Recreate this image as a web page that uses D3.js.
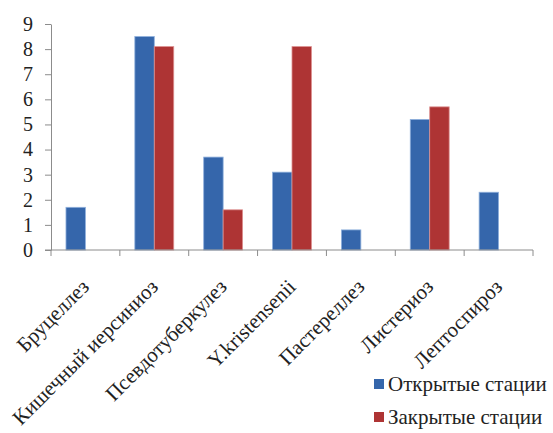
<!DOCTYPE html>
<html>
<head>
<meta charset="utf-8">
<script src="https://cdn.jsdelivr.net/npm/d3@7"></script>
</head>
<body style="margin:0">
<script>
const categories = ['Бруцеллез', 'Кишечный иерсиниоз', 'Псевдотуберкулез', 'Y.kristensenii',
  'Пастереллез', 'Листериоз', 'Лептоспироз'];
const seriesNames = ['Открытые стации', 'Закрытые стации'];
const openValues = [1.7, 8.5, 3.7, 3.1, 0.8, 5.2, 2.3];
const closedValues = [null, 8.1, 1.6, 8.1, null, 5.7, null];
const yTicks = [0, 1, 2, 3, 4, 5, 6, 7, 8, 9];
const colors = ['#3566ab', '#ae3434'];

const width = 553;
const height = 433;
const margin = { top: 24, right: 20, bottom: 183, left: 51 };

const fontStyle = (size) =>
  'font-family: "Liberation Serif", Tinos, "Times New Roman", serif; font-size: ' + size + 'px;';

const svg = d3.select('body')
  .append('svg')
  .attr('width', width)
  .attr('height', height);

const x = d3.scaleBand()
  .domain(categories)
  .range([margin.left, width - margin.right]);

const xInner = d3.scaleBand()
  .domain(seriesNames)
  .range([0, x.bandwidth()])
  .paddingOuter(0.77);

const y = d3.scaleLinear()
  .domain([0, 9])
  .range([height - margin.bottom, margin.top]);

const rows = categories.map((c, i) => ({
  cat: c,
  vals: [openValues[i], closedValues[i]]
}));

const g = svg.selectAll('.grp')
  .data(rows)
  .enter()
  .append('g')
  .attr('class', 'grp')
  .attr('transform', (d) => 'translate(' + x(d.cat) + ',0)');

g.selectAll('rect')
  .data((d) => d.vals.map((v, i) => ({ v, s: seriesNames[i], i })).filter((e) => e.v != null))
  .enter()
  .append('rect')
  .attr('x', (d) => xInner(d.s))
  .attr('width', xInner.bandwidth())
  .attr('y', (d) => y(d.v))
  .attr('height', (d) => y(0) - y(d.v))
  .attr('fill', (d) => colors[d.i])
  .attr('stroke', (d) => d.i === 0 ? '#8fb0dc' : '#dc9090')
  .attr('stroke-width', 0.8);

// y axis
const yAxis = svg.append('g')
  .attr('transform', 'translate(' + margin.left + ',0)')
  .call(d3.axisLeft(y).tickValues(yTicks).tickSize(6).tickPadding(12).tickSizeOuter(0));
yAxis.select('.domain').attr('stroke', '#8c8c8c');
yAxis.selectAll('.tick line').attr('stroke', '#8c8c8c');
yAxis.selectAll('.tick text')
  .attr('style', fontStyle(20))
  .attr('fill', '#222');

// x axis (ticks at band boundaries)
const xAxisG = svg.append('g')
  .attr('transform', 'translate(0,' + y(0) + ')');
xAxisG.append('line')
  .attr('x1', margin.left - 6)
  .attr('x2', width - margin.right)
  .attr('stroke', '#8c8c8c');
const bounds = categories.map((c) => x(c)).concat([x.range()[1]]);
xAxisG.selectAll('.xt')
  .data(bounds)
  .enter()
  .append('line')
  .attr('x1', (d) => d)
  .attr('x2', (d) => d)
  .attr('y1', 0)
  .attr('y2', 6)
  .attr('stroke', '#8c8c8c');

xAxisG.selectAll('.xl')
  .data(categories)
  .enter()
  .append('text')
  .attr('text-anchor', 'end')
  .attr('style', fontStyle(21))
  .attr('fill', '#222')
  .attr('transform', (d) => 'translate(' + (x(d) + x.bandwidth() / 2 + 5) + ',38) rotate(-45)')
  .text((d) => d);

// legend
const legend = svg.append('g')
  .attr('transform', 'translate(374,379)');
const li = legend.selectAll('g')
  .data(seriesNames)
  .enter()
  .append('g')
  .attr('transform', (d, i) => 'translate(0,' + i * 33 + ')');
li.append('rect')
  .attr('width', 10)
  .attr('height', 10)
  .attr('fill', (d, i) => colors[i]);
li.append('text')
  .attr('x', 14)
  .attr('y', 12)
  .attr('style', fontStyle(21))
  .attr('fill', '#222')
  .text((d) => d);
</script>
</body>
</html>
